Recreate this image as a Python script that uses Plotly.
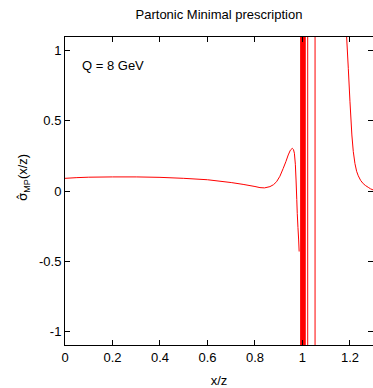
import plotly.graph_objects as go

# smooth part of the curve (x/z, sigma_MP)
x_smooth = [0.0, 0.05, 0.1, 0.2, 0.3, 0.4, 0.5, 0.6, 0.7, 0.75, 0.8, 0.821, 0.84, 0.863, 0.878, 0.891,
            0.905, 0.919, 0.93, 0.94, 0.949, 0.957, 0.962, 0.966, 0.970, 0.973, 0.976, 0.978, 0.981,
            0.984, 0.986]
y_smooth = [0.09, 0.095, 0.098, 0.1, 0.1, 0.097, 0.09, 0.08, 0.06, 0.047, 0.032, 0.024, 0.022, 0.031,
            0.045, 0.066, 0.105, 0.161, 0.208, 0.256, 0.29, 0.303, 0.295, 0.268, 0.19, 0.078, -0.06,
            -0.159, -0.26, -0.348, -0.43]

# wild oscillation near x/z = 1 (values swing far outside the axis range)
x_osc = [0.9925, 0.9925, 0.994, 0.994, 0.9955, 0.9955, 0.997, 0.997, 0.9985, 0.9985,
         1.000, 1.000, 1.0015, 1.0015, 1.003, 1.003, 1.0045, 1.0045, 1.006, 1.006,
         1.0075, 1.0075, 1.009, 1.009, 1.0105, 1.0105, 1.011, 1.011, 1.022, 1.022, 1.053, 1.053]
y_osc = [-100, 100, 100, -100, -100, 100, 100, -100, -100, 100,
         100, -100, -100, 100, 100, -100, -100, 100, 100, -100,
         -100, 100, 100, -100, -100, 100, 100, -100, -100, 100, 100, -100]

# right branch
x_right = [1.17, 1.18, 1.186, 1.193, 1.2, 1.208, 1.214, 1.221, 1.228, 1.235, 1.245, 1.256, 1.266,
           1.277, 1.287, 1.297]
y_right = [5.0, 2.0, 1.094, 0.871, 0.634, 0.398, 0.28, 0.195, 0.14, 0.108, 0.075, 0.052, 0.038,
           0.026, 0.015, 0.008]

x_ticks = [0, 0.2, 0.4, 0.6, 0.8, 1, 1.2]
x_ticktext = ["0", "0.2", "0.4", "0.6", "0.8", "1", "1.2"]
y_ticks = [-1, -0.5, 0, 0.5, 1]
y_ticktext = ["-1", "-0.5", "0", "0.5", "1"]

xs = x_smooth + [None] + x_osc + [None] + x_right
ys = y_smooth + [None] + y_osc + [None] + y_right

FONT = "Liberation Sans, Arial, sans-serif"
FS = 13

fig = go.Figure()
fig.add_trace(go.Scatter(x=xs, y=ys, mode="lines",
                         line=dict(color="#ff0000", width=1, simplify=False),
                         connectgaps=False, showlegend=False))

axis_common = dict(showgrid=False, zeroline=False, showline=True, linecolor="black", linewidth=1,
                   mirror="ticks", ticks="inside", ticklen=5, tickcolor="black",
                   tickfont=dict(family=FONT, size=FS, color="black"))

fig.update_layout(
    width=373, height=388,
    margin=dict(l=65, r=0, t=37, b=43),
    paper_bgcolor="white", plot_bgcolor="white",
    title=dict(text="Partonic Minimal prescription", x=(65 + 373) / 2 / 373, xanchor="center",
               y=1 - 14 / 388, yanchor="middle", font=dict(family=FONT, size=FS, color="black")),
    xaxis=dict(range=[0, 1.297], tickvals=x_ticks, ticktext=x_ticktext,
               title=dict(text="x/z", font=dict(family=FONT, size=FS, color="black"), standoff=12),
               **axis_common),
    yaxis=dict(range=[-1.094, 1.094], tickvals=y_ticks, ticktext=y_ticktext, **axis_common),
)

fig.add_annotation(text="<span style=\"font-family:'DejaVu Sans'\">σ̂</span><sub>MP</sub>(x/z)",
                   xref="paper", yref="paper",
                   x=-(65 - 23) / 308, y=(345 - 178) / 308, textangle=-90, showarrow=False,
                   xanchor="center", yanchor="middle",
                   font=dict(family=FONT, size=FS, color="black"))
fig.add_annotation(text="Q = 8 GeV", xref="paper", yref="paper",
                   x=(80 - 65) / 308, y=(345 - 66) / 308, showarrow=False,
                   xanchor="left", yanchor="middle",
                   font=dict(family=FONT, size=FS, color="black"))

fig.write_html("out.html")
